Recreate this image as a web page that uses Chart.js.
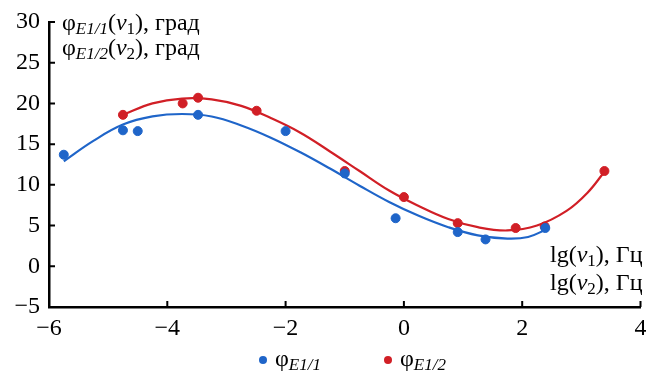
<!DOCTYPE html>
<html>
<head>
<meta charset="utf-8">
<script src="https://cdn.jsdelivr.net/npm/chart.js@4"></script>
<style>
  body { margin: 0; background: #fff; }
  #wrap { width: 646px; height: 378px; }
</style>
</head>
<body>
<div id="wrap"><canvas id="phaseChart"></canvas></div>
<script>
const xTicks = [-6, -4, -2, 0, 2, 4]
const yTicks = [-5, 0, 5, 10, 15, 20, 25, 30]

// measured points
const blueX = [-5.75, -4.75, -4.5, -3.48, -2.0, -1.0, -0.14, 0.91, 1.38, 2.39]
const blueY = [13.7, 16.7, 16.6, 18.6, 16.6, 11.4, 5.9, 4.2, 3.3, 4.7]
const redX = [-4.75, -3.74, -3.48, -2.49, -1.0, 0.0, 0.91, 1.89, 2.38, 3.39]
const redY = [18.6, 20.0, 20.7, 19.1, 11.7, 8.5, 5.3, 4.7, 4.9, 11.7]

// fitted curves
const blueFitX = [-5.75, -5.25, -4.75, -4.25, -3.75, -3.25, -2.75, -2.25, -1.75, -1.25, -0.75, -0.25, 0.25, 0.75, 1.25, 1.75, 2.1, 2.4]
const blueFitY = [12.9, 15.4, 17.4, 18.4, 18.7, 18.4, 17.3, 15.8, 14.0, 12.0, 9.9, 7.9, 6.2, 4.8, 3.8, 3.4, 3.6, 4.5]
const redFitX = [-4.75, -4.25, -3.75, -3.25, -2.75, -2.25, -1.75, -1.25, -0.75, -0.25, 0.25, 0.75, 1.25, 1.75, 2.25, 2.75, 3.1, 3.4]
const redFitY = [18.6, 20.0, 20.6, 20.5, 19.7, 18.2, 16.4, 14.1, 11.7, 9.3, 7.4, 5.8, 4.8, 4.4, 5.0, 6.8, 9.0, 11.7]

const blue = "#1f65c9"
const red = "#d11f26"
const serif = "'Liberation Serif', 'Times New Roman', serif"
const big = 24
const small = 17

function pts(xs, ys){
    return xs.map((x, i) => ({x: x, y: ys[i]}))
}

function fmt(v){
    return String(v).replace("-", "\u2212")
}

// draw a line of text made of runs (normal / italic / subscript)
function drawRuns(ctx, runs, x, y, align){
    let total = 0
    runs.forEach(r => {
        ctx.font = (r.it ? "italic " : "") + r.size + "px " + serif
        r.w = ctx.measureText(r.t).width
        total += r.w
    })
    let cx = align === "right" ? x - total : x
    ctx.textAlign = "left"
    ctx.textBaseline = "alphabetic"
    runs.forEach(r => {
        ctx.font = (r.it ? "italic " : "") + r.size + "px " + serif
        ctx.fillText(r.t, cx, y + (r.dy || 0))
        cx += r.w
    })
}

function yTitle(n){
    return [
        {t: "\u03c6", size: big},
        {t: "E1/" + n, size: small, it: true, dy: 4},
        {t: "(", size: big},
        {t: "v", size: big, it: true},
        {t: String(n), size: small, dy: 4},
        {t: "), \u0433\u0440\u0430\u0434", size: big}
    ]
}

function xTitle(n){
    return [
        {t: "lg(", size: big},
        {t: "v", size: big, it: true},
        {t: String(n), size: small, dy: 4},
        {t: "), \u0413\u0446", size: big}
    ]
}

const extras = {
    id: "extras",
    afterDraw(chart){
        const ctx = chart.ctx
        const xs = chart.scales.x
        const ys = chart.scales.y
        ctx.save()
        // inward ticks
        ctx.strokeStyle = "#000"
        ctx.lineWidth = 2
        ctx.beginPath()
        xTicks.forEach(v => {
            const px = xs.getPixelForValue(v)
            ctx.moveTo(px, ys.bottom)
            ctx.lineTo(px, ys.bottom - 6)
        })
        yTicks.forEach(v => {
            const py = ys.getPixelForValue(v)
            ctx.moveTo(xs.left, py)
            ctx.lineTo(xs.left + 6, py)
        })
        ctx.stroke()

        ctx.fillStyle = "#000"
        drawRuns(ctx, yTitle(1), xs.left + 13, 30, "left")
        drawRuns(ctx, yTitle(2), xs.left + 13, 55, "left")
        drawRuns(ctx, xTitle(1), xs.right + 2, 262, "right")
        drawRuns(ctx, xTitle(2), xs.right + 2, 290, "right")

        // legend
        const items = [{c: blue, n: 1, x: 263}, {c: red, n: 2, x: 388}]
        items.forEach(it => {
            ctx.fillStyle = it.c
            ctx.beginPath()
            ctx.arc(it.x, 360, 4, 0, Math.PI * 2)
            ctx.fill()
            ctx.fillStyle = "#000"
            drawRuns(ctx, [
                {t: "\u03c6", size: big},
                {t: "E1/" + it.n, size: small, it: true, dy: 4}
            ], it.x + 12, 366, "left")
        })
        ctx.restore()
    }
}

new Chart(document.getElementById("phaseChart"), {
    type: "scatter",
    data: {
        datasets: [
            {data: pts(blueX, blueY), backgroundColor: blue, borderColor: blue, pointRadius: 4.5, showLine: false},
            {data: pts(redX, redY), backgroundColor: red, borderColor: red, pointRadius: 4.5, showLine: false},
            {data: pts(blueFitX, blueFitY), borderColor: blue, borderWidth: 2.2, pointRadius: 0, showLine: true, tension: 0.4},
            {data: pts(redFitX, redFitY), borderColor: red, borderWidth: 2.2, pointRadius: 0, showLine: true, tension: 0.4}
        ]
    },
    options: {
        responsive: true,
        maintainAspectRatio: false,
        animation: false,
        layout: {padding: {left: 0, right: 5, top: 22, bottom: 0}},
        plugins: {
            legend: {display: false},
            tooltip: {enabled: false}
        },
        scales: {
            x: {
                min: -6, max: 4,
                afterBuildTicks: s => { s.ticks = xTicks.map(v => ({value: v})) },
                afterFit: s => { s.height = 71; s.paddingLeft = 0; s.paddingRight = 0 },
                grid: {display: false, drawTicks: false},
                border: {display: true, color: "#000", width: 2.5},
                ticks: {color: "#000", padding: 7, maxRotation: 0, font: {family: serif, size: big}, callback: v => fmt(v)}
            },
            y: {
                min: -5, max: 30,
                afterBuildTicks: s => { s.ticks = yTicks.map(v => ({value: v})) },
                afterFit: s => { s.width = 49; s.paddingTop = 0; s.paddingBottom = 0 },
                grid: {display: false, drawTicks: false},
                border: {display: true, color: "#000", width: 2.5},
                ticks: {color: "#000", padding: 9, font: {family: serif, size: big}, callback: v => fmt(v)}
            }
        }
    },
    plugins: [extras]
})
</script>
</body>
</html>
